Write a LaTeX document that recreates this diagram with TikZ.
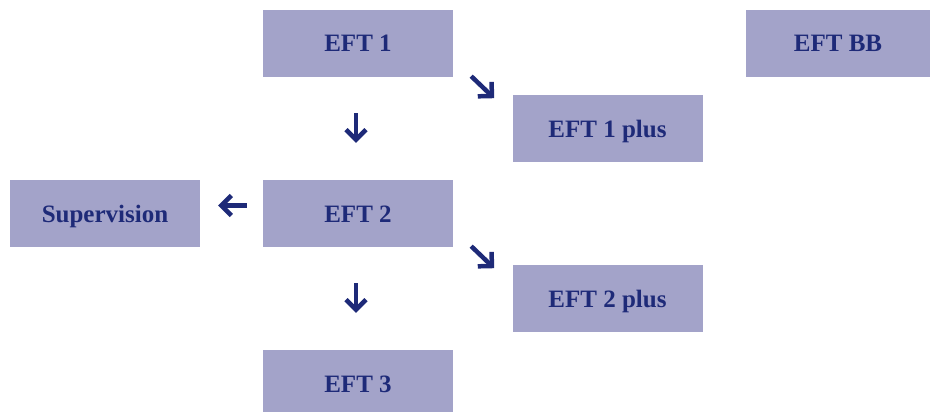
\documentclass[tikz,border=0pt]{standalone}
\usepackage{fontspec}
\setmainfont{Liberation Serif}
\usepackage{tikz}
\usetikzlibrary{calc,arrows.meta}
\definecolor{box_fill}{HTML}{A3A3C9}
\definecolor{dark_navy}{HTML}{1E2A78}

\begin{document}
\begin{tikzpicture}[x=1pt,y=1pt,
    box/.style={fill=box_fill, text=dark_navy, font=\fontsize{25}{28}\selectfont\bfseries,
        minimum width=190pt, minimum height=67pt, inner sep=0pt,
        text height=17pt, text depth=0pt},
    arr/.style={dark_navy, line width=4.5pt,
        -{Straight Barb[length=10pt, width=20pt, line width=4.5pt]}}]

    % Cadre de la figure
    \useasboundingbox (0,0) rectangle (930,-412);

    % Placer les boites
    \node[box] (eft1) at (358,-43.5) {EFT 1};
    \node[box, minimum width=184pt] (eftbb) at (838,-43.5) {EFT BB};
    \node[box] (eft1plus) at (607.5,-128.5) {EFT 1 plus};
    \node[box] (sup) at (105,-213.5) {Supervision};
    \node[box] (eft2) at (358,-213.5) {EFT 2};
    \node[box] (eft2plus) at (607.5,-298.5) {EFT 2 plus};
    \node[box] (eft3) at (358,-383.5) {EFT 3};

    % Points de depart des fleches obliques
    \coordinate (d1) at ($(eft1.south east)+(18,1)$);
    \coordinate (d2) at ($(eft2.south east)+(18,1)$);

    % Dessiner les fleches
    \draw[arr, shorten <=36pt, shorten >=37pt] ([xshift=-2pt]eft1.south) -- ([xshift=-2pt]eft2.north);
    \draw[arr, shorten <=36pt, shorten >=37pt] ([xshift=-2pt]eft2.south) -- ([xshift=-2pt]eft3.north);
    \draw[arr, shorten <=16pt, shorten >=18pt] ([yshift=8pt]eft2.west) -- ([yshift=8pt]sup.east);
    \draw[arr] (d1) -- ++(23,-22);
    \draw[arr] (d2) -- ++(23,-22);
\end{tikzpicture}
\end{document}
